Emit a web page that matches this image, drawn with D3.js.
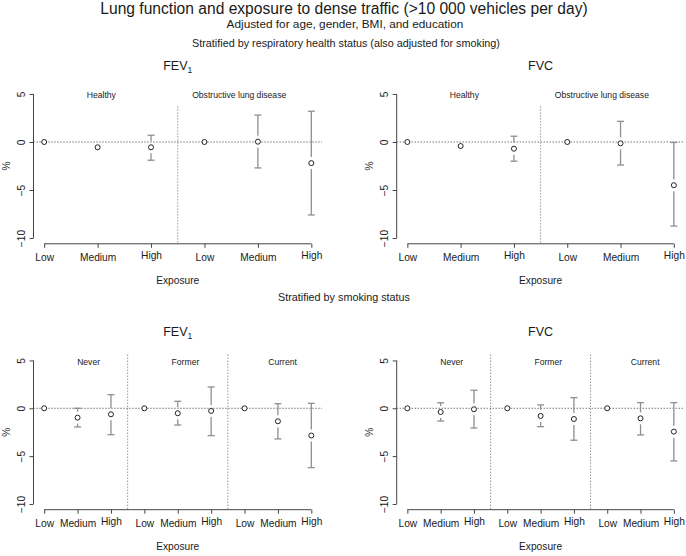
<!DOCTYPE html>
<html><head><meta charset="utf-8">
<script src="https://cdn.jsdelivr.net/npm/d3@7"></script>
<style>
body{margin:0;background:#fff}
svg{display:block}
text{font-family:"Liberation Sans",Arial,Helvetica,sans-serif;fill:#1a1a1a}
</style>
</head><body>
<svg id="c" width="686" height="556"></svg>
<script>
// ---------------- data ----------------
const exposure = ["Low", "Medium", "High"];
const respGroups = ["Healthy", "Obstructive lung disease"];
const smokeGroups = ["Never", "Former", "Current"];
const respLabelPos = [2.07, 4.65];
const smokeLabelPos = [2.33, 5.23, 8.14];
const yTicks = [5, 0, -5, -10];

// Stratified by respiratory health status
const fev1RespEst = [0, -0.55, -0.55, 0, 0.03, -2.2];
const fev1RespLo  = [0, -1.2, -1.9, 0, -2.7, -7.6];
const fev1RespHi  = [0, 0.05, 0.7, 0, 2.8, 3.2];
const fvcRespEst  = [0, -0.42, -0.7, 0, -0.14, -4.5];
const fvcRespLo   = [0, -1.05, -2.0, 0, -2.4, -8.75];
const fvcRespHi   = [0, 0.1, 0.6, 0, 2.15, -0.05];

// Stratified by smoking status
const fev1SmokeEst = [0, -0.98, -0.63, 0, -0.52, -0.28, 0, -1.36, -2.85];
const fev1SmokeLo  = [0, -1.95, -2.76, 0, -1.75, -2.86, 0, -3.2, -6.2];
const fev1SmokeHi  = [0, 0.0, 1.42, 0, 0.73, 2.23, 0, 0.48, 0.52];
const fvcSmokeEst  = [0, -0.39, -0.1, 0, -0.8, -1.12, 0, -1.05, -2.44];
const fvcSmokeLo   = [0, -1.33, -2.06, 0, -1.92, -3.34, 0, -2.79, -5.5];
const fvcSmokeHi   = [0, 0.58, 1.88, 0, 0.35, 1.11, 0, 0.59, 0.59];

// ---------------- layout ----------------
const svg = d3.select("#c");
const colX = [[33.5, 322], [396.7, 684.5]];
const rowY = [[88.2, 243.8], [354.7, 509.7]];
const yDomain = [-10.6, 5.6];
const axisColor = "#444";
const ciColor = "#8f8f8f";
const gap = 6;

// main titles
svg.append("text").attr("x", 344).attr("y", 14.3).attr("text-anchor", "middle")
  .style("font-size", "15.6px").text("Lung function and exposure to dense traffic (>10 000 vehicles per day)");
svg.append("text").attr("x", 345).attr("y", 28.4).attr("text-anchor", "middle")
  .style("font-size", "11.8px").text("Adjusted for age, gender, BMI, and education");
svg.append("text").attr("x", 346).attr("y", 47).attr("text-anchor", "middle")
  .style("font-size", "10.8px").text("Stratified by respiratory health status (also adjusted for smoking)");
svg.append("text").attr("x", 344).attr("y", 301).attr("text-anchor", "middle")
  .style("font-size", "10.8px").text("Stratified by smoking status");

function panel(cfg) {
  const {col, row, groups, labelPos, est, lo, hi, title, sub, divTop} = cfg;
  const n = est.length;
  const g = svg.append("g");
  const pad = 0.04 * (n - 1);
  const x = d3.scaleLinear().domain([1 - pad, n + pad]).range(colX[col]);
  const y = d3.scaleLinear().domain(yDomain).range([rowY[row][1], rowY[row][0]]);
  const [x0, x1] = colX[col];
  const [yT, yB] = rowY[row];
  const cx = (x0 + x1) / 2;

  // title
  const t = g.append("text").attr("x", cx).attr("y", yT - 18.7).attr("text-anchor", "middle")
    .style("font-size", "12.5px").text(title);
  if (sub) t.append("tspan").attr("dy", 3).style("font-size", "8.5px").text(sub);

  // zero line
  g.append("line").attr("x1", x0).attr("x2", x1).attr("y1", y(0)).attr("y2", y(0))
    .attr("stroke", "#333").attr("stroke-width", 1).attr("stroke-dasharray", "1,2");

  // group dividers
  const nG = groups.length;
  for (let k = 1; k < nG; k++) {
    const xv = k * 3 + 0.5;
    g.append("line").attr("x1", x(xv)).attr("x2", x(xv))
      .attr("y1", y(divTop)).attr("y2", yB)
      .attr("stroke", "#666").attr("stroke-width", 1).attr("stroke-dasharray", "1,2");
  }

  // group labels
  g.selectAll(".grp").data(groups).join("text")
    .attr("x", (d, i) => x(labelPos[i])).attr("y", y(4.85) + 3)
    .attr("text-anchor", "middle").style("font-size", "8.6px").text(d => d);

  // axes
  const idx = d3.range(1, n + 1);
  const xAxis = d3.axisBottom(x).tickValues(idx).tickSize(4).tickSizeOuter(0)
    .tickFormat(d => exposure[(d - 1) % 3]);
  const xa = g.append("g").attr("transform", `translate(0,${yB})`).call(xAxis);
  xa.select(".domain").remove();
  xa.append("line").attr("x1", x(1)).attr("x2", x(n)).attr("stroke", axisColor);
  xa.selectAll(".tick line").attr("stroke", axisColor);
  xa.selectAll(".tick text").attr("y", 14)
    .style("font-size", "10.2px").style("fill", "#1a1a1a").style("font-family", "'Liberation Sans',Arial,sans-serif")
    .attr("dy", (d) => exposure[(d - 1) % 3] === "High" ? "0.12em" : "0.32em");

  const yAxis = d3.axisLeft(y).tickValues(yTicks).tickSize(4).tickSizeOuter(0).tickFormat(d3.format("d"));
  const ya = g.append("g").attr("transform", `translate(${x0},0)`).call(yAxis);
  ya.select(".domain").remove();
  ya.append("line").attr("y1", y(yTicks[0])).attr("y2", y(yTicks[yTicks.length - 1])).attr("stroke", axisColor);
  ya.selectAll(".tick line").attr("stroke", axisColor);
  ya.selectAll(".tick text")
    .attr("x", null).attr("dy", null)
    .attr("transform", "translate(-8.5,0) rotate(-90)")
    .attr("text-anchor", "middle")
    .style("font-size", "10.2px").style("fill", "#1a1a1a").style("font-family", "'Liberation Sans',Arial,sans-serif");

  // axis titles
  g.append("text").attr("x", cx).attr("y", yB + 40.5).attr("text-anchor", "middle")
    .style("font-size", "10.2px").text("Exposure");
  g.append("text").attr("transform", `translate(${x0 - 23.5},${(yT + yB) / 2}) rotate(-90)`)
    .attr("text-anchor", "middle").style("font-size", "10.2px").text("%");

  // confidence intervals (split around point)
  const rows = est.map((e, i) => ({i: i + 1, e, lo: lo[i], hi: hi[i]}));
  rows.forEach(d => {
    const px = x(d.i), pe = y(d.e), ph = y(d.hi), pl = y(d.lo);
    if (pe - gap - ph > 1) {
      g.append("line").attr("x1", px).attr("x2", px).attr("y1", pe - gap).attr("y2", ph)
        .attr("stroke", ciColor).attr("stroke-width", 1.3);
      g.append("line").attr("x1", px - 3.5).attr("x2", px + 3.5).attr("y1", ph).attr("y2", ph)
        .attr("stroke", ciColor).attr("stroke-width", 1.3);
    }
    if (pl - (pe + gap) > 1) {
      g.append("line").attr("x1", px).attr("x2", px).attr("y1", pe + gap).attr("y2", pl)
        .attr("stroke", ciColor).attr("stroke-width", 1.3);
      g.append("line").attr("x1", px - 3.5).attr("x2", px + 3.5).attr("y1", pl).attr("y2", pl)
        .attr("stroke", ciColor).attr("stroke-width", 1.3);
    }
  });

  // points
  g.selectAll(".pt").data(rows).join("circle")
    .attr("cx", d => x(d.i)).attr("cy", d => y(d.e)).attr("r", 2.5)
    .attr("fill", "#fff").attr("stroke", "#222").attr("stroke-width", 1);
}

panel({col: 0, row: 0, groups: respGroups, labelPos: respLabelPos,
  est: fev1RespEst, lo: fev1RespLo, hi: fev1RespHi, title: "FEV", sub: "1", divTop: 3.7});
panel({col: 1, row: 0, groups: respGroups, labelPos: respLabelPos,
  est: fvcRespEst, lo: fvcRespLo, hi: fvcRespHi, title: "FVC", sub: null, divTop: 3.7});
panel({col: 0, row: 1, groups: smokeGroups, labelPos: smokeLabelPos,
  est: fev1SmokeEst, lo: fev1SmokeLo, hi: fev1SmokeHi, title: "FEV", sub: "1", divTop: 5.6});
panel({col: 1, row: 1, groups: smokeGroups, labelPos: smokeLabelPos,
  est: fvcSmokeEst, lo: fvcSmokeLo, hi: fvcSmokeHi, title: "FVC", sub: null, divTop: 5.6});
</script>
</body></html>
